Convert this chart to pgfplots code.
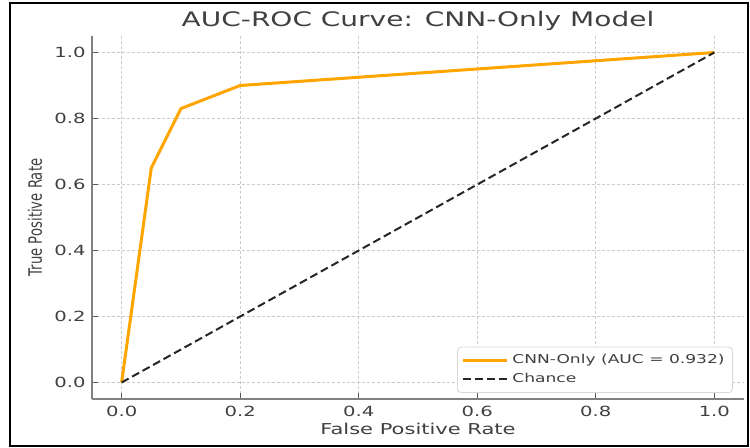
\documentclass[border=0pt]{standalone}
\usepackage{fontspec}
\setmainfont{DejaVu Sans}
\usepackage{graphicx}
\usepackage{pgfplots}
\pgfplotsset{compat=1.18}
\definecolor{mplorange}{HTML}{FFA500}
\definecolor{spinegray}{HTML}{808080}
\newcommand\sx[1]{\scalebox{1.4}[1]{#1}}
\begin{document}
\begin{tikzpicture}
\useasboundingbox (0,0) rectangle (375pt,224pt);
\draw[black, line width=1pt] (5pt,0.8pt) rectangle (374pt,222.6pt);
\begin{axis}[
  at={(46pt,24.5pt)}, anchor=south west,
  scale only axis, width=326pt, height=181.5pt,
  xmin=-0.05, xmax=1.05, ymin=-0.05, ymax=1.05,
  axis lines*=left, axis line style={spinegray, line width=0.8pt, -},
  tick align=inside, tick style={black!65, line width=0.5pt},
  major tick length=3pt,
  xtick={0,0.2,0.4,0.6,0.8,1.0}, ytick={0,0.2,0.4,0.6,0.8,1.0},
  xticklabels={\sx{0.0},\sx{0.2},\sx{0.4},\sx{0.6},\sx{0.8},\sx{1.0}},
  yticklabels={\sx{0.0},\sx{0.2},\sx{0.4},\sx{0.6},\sx{0.8},\sx{1.0}},
  ticklabel style={font=\fontsize{7}{8}\selectfont, text=black!75, inner sep=0pt},
  xticklabel style={anchor=north, yshift=-3.2pt},
  yticklabel style={anchor=east, xshift=-3pt},
  grid=major, grid style={black!20, line width=0.4pt, dash pattern=on 1.5pt off 1pt},
  title={\sx{AUC-ROC Curve: CNN-Only Model}},
  title style={font=\fontsize{10}{12}\selectfont, text=black!75,
    at={(axis description cs:0.5,1)}, anchor=base, yshift=-1.5pt, inner sep=0pt},
  xlabel={\sx{False Positive Rate}},
  ylabel={\scalebox{1}[1.4]{True Positive Rate}},
  xlabel style={font=\fontsize{7.5}{9}\selectfont, text=black!75,
    at={(axis description cs:0.5,0)}, anchor=base, yshift=-18pt, inner sep=0pt},
  ylabel style={font=\fontsize{6.6}{8}\selectfont, text=black!75,
    at={(axis description cs:-0.0874,0.5)}, anchor=center, inner sep=0pt},
  legend style={at={(1,0)}, anchor=south east, xshift=-5.5pt, yshift=3pt,
    draw=black!15, rounded corners=2pt, font=\fontsize{6.1}{7}\selectfont, text=black!75,
    inner xsep=2pt, inner ysep=2pt, row sep=0.5pt,
    nodes={inner ysep=1.5pt, inner xsep=2pt}},
  legend cell align=left,
  legend image code/.code={\path (0pt,0pt) -- (22pt,0pt);\draw[#1] (0pt,0pt) -- (19pt,0pt);},
]
\addplot[mplorange, line width=1.5pt] coordinates {(0,0) (0.05,0.65) (0.1,0.83) (0.2,0.9) (1,1)};
\addlegendentry{\sx{CNN-Only (AUC = 0.932)}}
\addplot[black!85, line width=1pt, dash pattern=on 4pt off 2pt] coordinates {(0,0) (1,1)};
\addlegendentry{\sx{Chance}}
\end{axis}
\end{tikzpicture}
\end{document}
